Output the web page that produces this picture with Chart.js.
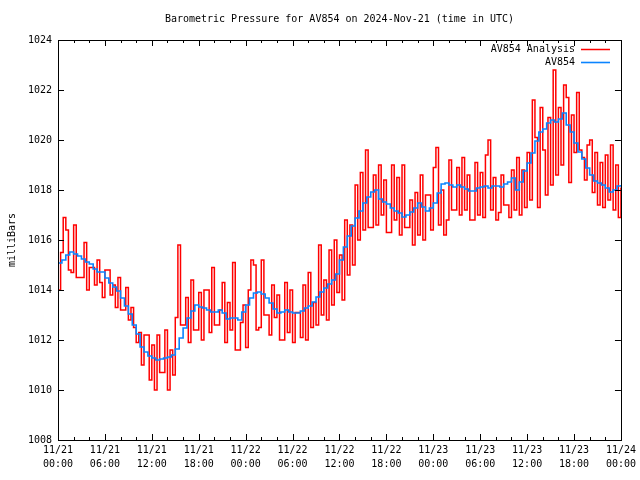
<!DOCTYPE html>
<html>
<head>
<meta charset="utf-8">
<script src="https://cdn.jsdelivr.net/npm/chart.js@4.4.1/dist/chart.umd.min.js"></script>
<style>
html,body{margin:0;padding:0;background:#fff;}
canvas{display:block;}
</style>
</head>
<body>
<canvas id="c" width="640" height="480"></canvas>
<script>
const titleText = "Barometric Pressure for AV854 on 2024-Nov-21 (time in UTC)";
const yTitle = "milliBars";
const seriesNames = ["AV854 Analysis", "AV854"];
const seriesColors = ["#ff0000", "#0a84ff"];
const xTickDates = ["11/21","11/21","11/21","11/21","11/22","11/22","11/22","11/22","11/23","11/23","11/23","11/23","11/24"];
const xTickTimes = ["00:00","06:00","12:00","18:00","00:00","06:00","12:00","18:00","00:00","06:00","12:00","18:00","00:00"];
const yTicks = [1008,1010,1012,1014,1016,1018,1020,1022,1024];

// AV854 Analysis: one value every 20 minutes from 11/21 00:00 (hours)
const analysisStepHours = 1/3;
const analysisValues = [
1014.0,1015.5,1016.9, 1016.4,1014.8,1014.7, 1016.6,1014.5,1014.5, 1014.5,1015.9,1014.0,
1014.9,1014.9,1014.2, 1015.2,1014.3,1013.7, 1014.8,1014.8,1013.8, 1014.2,1013.3,1014.5,
1013.2,1013.2,1014.1, 1012.8,1013.3,1012.5, 1011.9,1012.3,1011.0, 1012.2,1012.2,1010.4,
1011.8,1010.0,1012.2, 1010.7,1010.7,1012.4, 1010.0,1011.6,1010.6, 1012.9,1015.8,1012.6,
1012.6,1013.7,1011.9, 1014.4,1012.4,1012.4, 1013.9,1012.0,1014.0, 1014.0,1012.3,1014.9,
1012.6,1012.6,1013.2, 1014.3,1011.9,1013.5, 1012.4,1015.1,1011.6, 1011.6,1012.7,1013.4,
1011.7,1014.0,1015.2, 1015.0,1012.4,1012.5, 1015.2,1013.0,1013.0, 1012.2,1014.2,1012.9,
1013.8,1012.0,1012.0, 1014.3,1012.3,1014.0, 1011.9,1013.1,1013.1, 1012.1,1014.2,1012.0,
1014.7,1012.5,1013.5, 1012.6,1015.8,1013.0, 1014.4,1012.8,1015.6, 1013.4,1016.0,1013.9,
1015.4,1013.6,1016.8, 1014.6,1016.6,1015.0, 1018.2,1016.0,1018.7, 1016.4,1019.6,1016.5,
1016.5,1018.6,1016.6, 1019.0,1017.0,1018.4, 1016.3,1016.3,1019.0, 1016.8,1018.5,1016.2,
1019.0,1016.5,1016.5, 1017.6,1015.8,1017.9, 1016.2,1018.6,1016.0, 1017.8,1017.8,1016.4,
1018.9,1019.7,1016.6, 1018.0,1016.2,1016.8, 1019.2,1017.2,1017.2, 1018.9,1017.0,1019.3,
1017.2,1018.6,1016.8, 1016.8,1019.1,1017.0, 1018.7,1016.9,1019.4, 1020.0,1017.2,1018.5,
1016.8,1017.1,1018.6, 1017.4,1017.4,1016.9, 1018.8,1017.2,1019.3, 1017.0,1018.8,1017.3,
1019.5,1017.6,1021.6, 1020.1,1017.3,1021.3, 1019.6,1017.8,1020.9, 1018.2,1022.8,1018.6,
1021.3,1019.0,1022.2, 1021.7,1018.3,1021.0, 1019.5,1021.9,1019.6, 1019.3,1018.4,1019.8,
1020.0,1017.9,1019.5, 1017.4,1019.1,1017.3, 1019.4,1017.6,1019.8, 1017.2,1019.0,1016.9,
1018.1
];

// AV854: one value every 30 minutes from 11/21 00:00 (hours)
const stationStepHours = 0.5;
const stationValues = [
1015.08,1015.2,1015.4,1015.52,1015.44,1015.36,1015.24,1015.12,1015.04,1014.84,
1014.72,1014.72,1014.48,1014.28,1014.12,1013.96,1013.68,1013.36,1013.04,1012.6,
1012.24,1011.72,1011.52,1011.36,1011.28,1011.2,1011.24,1011.28,1011.32,1011.4,
1011.64,1012.08,1012.48,1012.88,1013.16,1013.4,1013.32,1013.28,1013.2,1013.12,
1013.12,1013.2,1013.08,1012.84,1012.88,1012.88,1012.8,1013.12,1013.4,1013.68,
1013.88,1013.92,1013.84,1013.68,1013.48,1013.24,1013.08,1013.12,1013.2,1013.12,
1013.08,1013.08,1013.16,1013.28,1013.36,1013.52,1013.72,1013.92,1014.08,1014.24,
1014.4,1014.64,1015.2,1015.72,1016.16,1016.56,1016.88,1017.16,1017.48,1017.72,
1017.92,1018.0,1017.64,1017.52,1017.44,1017.28,1017.16,1017.08,1016.92,1017.0,
1017.12,1017.28,1017.48,1017.32,1017.16,1017.28,1017.48,1017.88,1018.24,1018.28,
1018.2,1018.12,1018.2,1018.12,1018.04,1017.96,1017.96,1018.08,1018.12,1018.16,
1018.08,1018.16,1018.16,1018.12,1018.24,1018.32,1018.48,1018.0,1018.32,1018.76,
1019.08,1019.48,1019.96,1020.32,1020.44,1020.68,1020.8,1020.72,1020.84,1021.08,
1020.6,1020.32,1019.88,1019.52,1019.24,1018.88,1018.6,1018.36,1018.28,1018.2,
1018.08,1017.92,1018.0,1018.16,1018.2
];

const FONT = "'DejaVu Sans Mono', 'Liberation Mono', monospace";

const analysisData = analysisValues.map((v, i) => ({x: i * analysisStepHours, y: v}));
const stationData = stationValues.map((v, i) => ({x: i * stationStepHours, y: v}));

const framePlugin = {
  id: 'frame',
  afterDraw(chart) {
    const ctx = chart.ctx;
    const a = chart.chartArea;
    const xs = chart.scales.x, ys = chart.scales.y;
    ctx.save();
    ctx.strokeStyle = '#000';
    ctx.lineWidth = 1;
    ctx.beginPath();
    yTicks.forEach(v => {
      const y = Math.round(ys.getPixelForValue(v)) + 0.5;
      ctx.moveTo(a.left, y); ctx.lineTo(a.left + 6, y);
      ctx.moveTo(a.right, y); ctx.lineTo(a.right - 6, y);
    });
    for (let h = 0; h <= 72; h += 2) {
      const x = Math.round(xs.getPixelForValue(h)) + 0.5;
      const len = (h % 6 === 0) ? 6 : 3;
      ctx.moveTo(x, a.bottom); ctx.lineTo(x, a.bottom - len);
      ctx.moveTo(x, a.top); ctx.lineTo(x, a.top + len);
    }
    ctx.stroke();
    ctx.strokeRect(Math.round(a.left) + 0.5, Math.round(a.top) + 0.5,
                   Math.round(a.right - a.left), Math.round(a.bottom - a.top));
    ctx.fillStyle = '#000';
    ctx.font = '10px ' + FONT;
    ctx.textAlign = 'center';
    ctx.textBaseline = 'middle';
    ctx.fillText(titleText, (a.left + a.right) / 2, 19);
    ctx.textAlign = 'right';
    chart.data.datasets.forEach((ds, i) => {
      const y = 49.5 + i * 13;
      ctx.fillStyle = '#000';
      ctx.fillText(ds.label, 575, y);
      ctx.strokeStyle = ds.borderColor;
      ctx.lineWidth = ds.borderWidth;
      ctx.beginPath();
      ctx.moveTo(581, y); ctx.lineTo(610, y);
      ctx.stroke();
    });
    ctx.restore();
  }
};

new Chart(document.getElementById('c'), {
  type: 'line',
  data: {
    datasets: [
      {label: seriesNames[0], data: analysisData, borderColor: seriesColors[0], borderWidth: 1.5,
       pointRadius: 0, stepped: true, fill: false, order: 2},
      {label: seriesNames[1], data: stationData, borderColor: seriesColors[1], borderWidth: 1.6,
       pointRadius: 0, stepped: true, fill: false, order: 1}
    ]
  },
  options: {
    responsive: false,
    animation: false,
    devicePixelRatio: 1,
    layout: {padding: {left: 0, right: 18, top: 40, bottom: 0}},
    plugins: {legend: {display: false}, title: {display: false}, tooltip: {enabled: false}},
    scales: {
      x: {
        type: 'linear', min: 0, max: 72,
        grid: {display: false, drawTicks: false},
        border: {display: false},
        afterFit(s) { s.height = 40; },
        ticks: {
          stepSize: 6, autoSkip: false, maxRotation: 0, padding: 4, color: '#000',
          font: {family: FONT, size: 10, lineHeight: 1.35},
          callback(v) { const i = Math.round(v / 6); return [xTickDates[i], xTickTimes[i]]; }
        }
      },
      y: {
        min: 1008, max: 1024,
        grid: {display: false, drawTicks: false},
        border: {display: false},
        afterFit(s) { s.width = 58; },
        title: {display: true, text: yTitle, color: '#000', font: {family: FONT, size: 10}, padding: {top: 6, bottom: 0}},
        ticks: {stepSize: 2, padding: 6, color: '#000', font: {family: FONT, size: 10},
                callback(v) { return String(v); }}
      }
    }
  },
  plugins: [framePlugin]
});
</script>
</body>
</html>
